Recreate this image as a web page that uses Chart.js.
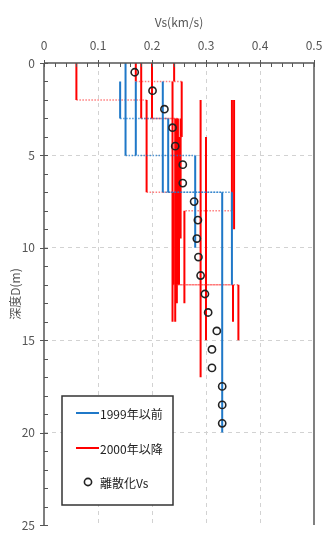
<!DOCTYPE html>
<html><head><meta charset="utf-8">
<script src="https://cdn.jsdelivr.net/npm/chart.js@4.4.0/dist/chart.umd.min.js"></script>
<style>html,body{margin:0;padding:0;background:#fff;}#wrap{width:327px;height:534px;position:relative}</style>
</head><body><div id="wrap"><canvas id="c" width="327" height="534"></canvas></div>
<script>
// ---- axis ticks ----
const xTickValues = [0, 0.1, 0.2, 0.3, 0.4, 0.5];
const xTickLabels = ['0', '0.1', '0.2', '0.3', '0.4', '0.5'];
const yTickValues = [0, 5, 10, 15, 20, 25];
const yTickLabels = ['0', '5', '10', '15', '20', '25'];

// ---- legend labels ----
const legendLabels = ['1999年以前', '2000年以降', '離散化Vs'];

// ---- 1999年以前 (blue) step profiles: layer boundaries (m) and Vs (km/s) ----
const blueA_depth = [0, 5, 10];      const blueA_vs = [0.151, 0.28];
const blueB_depth = [1, 5];          const blueB_vs = [0.170];
const blueC_depth = [1, 3, 7, 12];   const blueC_vs = [0.141, 0.23, 0.348];
const blueD_depth = [1, 7, 20];      const blueD_vs = [0.22, 0.33];

// ---- 2000年以降 (red) step profiles ----
const redA_depth = [0, 2, 7, 12, 15]; const redA_vs = [0.06, 0.19, 0.24, 0.36];
const redB_depth = [0, 1, 14];        const redB_vs = [0.17, 0.238];
const redC_depth = [0, 3, 14];        const redC_vs = [0.18, 0.243];
const redD_depth = [0, 3, 12, 14];    const redD_vs = [0.20, 0.248, 0.35];
const redE_depth = [0, 1, 4, 12];     const redE_vs = [0.241, 0.255, 0.25];
const redF_depth = [2, 9];            const redF_vs = [0.352];
const redG_depth = [2, 17];           const redG_vs = [0.29];
const redH_depth = [4, 15];           const redH_vs = [0.30];
const redI_depth = [2, 8, 13];        const redI_vs = [0.348, 0.26];
const redJ_depth = [3, 13];           const redJ_vs = [0.246];
const redK_depth = [3, 9.5];          const redK_vs = [0.253];

// ---- 離散化Vs (circles) ----
const discDepth = [0.5, 1.5, 2.5, 3.5, 4.5, 5.5, 6.5, 7.5, 8.5, 9.5, 10.5, 11.5, 12.5, 13.5, 14.5, 15.5, 16.5, 17.5, 18.5, 19.5];
const discVs    = [0.168, 0.201, 0.223, 0.238, 0.243, 0.257, 0.257, 0.278, 0.285, 0.283, 0.286, 0.29, 0.298, 0.304, 0.32, 0.311, 0.311, 0.33, 0.33, 0.33];

const FONT = "'Noto Sans CJK JP', 'Noto Sans', sans-serif";
const BLUE = '#1f78c8', BLUE_L = 'rgba(31,120,200,0.75)';
const RED = '#ff0000', RED_L = 'rgba(255,40,40,0.6)';

function stepProfile(depths, vs) {
  const pts = [];
  for (let i = 0; i < vs.length; i++) {
    pts.push({x: vs[i], y: depths[i]});
    pts.push({x: vs[i], y: depths[i + 1]});
  }
  return pts;
}
const isFlat = c => c.p0.parsed.y === c.p1.parsed.y;
function lineDs(label, color, light, pts, order) {
  return {
    label, data: pts, showLine: true, pointRadius: 0, pointHoverRadius: 0,
    borderColor: color, borderWidth: 2, order, fill: false,
    segment: {
      borderDash: c => isFlat(c) ? [1.5, 1.5] : undefined,
      borderColor: c => isFlat(c) ? light : undefined,
      borderWidth: c => isFlat(c) ? 1.5 : undefined
    }
  };
}

const datasets = [];
datasets.push({
  label: legendLabels[2],
  data: discVs.map((v, i) => ({x: v, y: discDepth[i]})),
  showLine: false, pointRadius: 3.6, pointBorderWidth: 1.6,
  pointBorderColor: '#222', pointBackgroundColor: 'rgba(0,0,0,0)', order: 0
});
[[blueA_depth, blueA_vs], [blueB_depth, blueB_vs], [blueC_depth, blueC_vs], [blueD_depth, blueD_vs]]
  .forEach(p => datasets.push(lineDs(legendLabels[0], BLUE, BLUE_L, stepProfile(p[0], p[1]), 1)));
[[redA_depth, redA_vs], [redB_depth, redB_vs], [redC_depth, redC_vs], [redD_depth, redD_vs], [redE_depth, redE_vs],
 [redF_depth, redF_vs], [redG_depth, redG_vs], [redH_depth, redH_vs], [redI_depth, redI_vs],
 [redJ_depth, redJ_vs], [redK_depth, redK_vs]]
  .forEach(p => datasets.push(lineDs(legendLabels[1], RED, RED_L, stepProfile(p[0], p[1]), 2)));

const frame = {
  id: 'frame',
  afterDatasetsDraw(chart) {
    const {ctx, chartArea: ca, scales} = chart;
    const xs = scales.x, ys = scales.y;
    ctx.save();
    ctx.strokeStyle = '#808080'; ctx.lineWidth = 2;
    ctx.beginPath(); ctx.moveTo(ca.right, ca.top); ctx.lineTo(ca.right, ca.bottom); ctx.stroke();
    ctx.strokeStyle = '#555'; ctx.lineWidth = 1.5;
    ctx.beginPath(); ctx.moveTo(ca.left, ca.top); ctx.lineTo(ca.right, ca.top);
    ctx.moveTo(ca.left, ca.top); ctx.lineTo(ca.left, ca.bottom); ctx.stroke();
    ctx.lineWidth = 1;
    ctx.beginPath();
    for (let i = 0; i <= 25; i++) {
      const v = i * 0.02, px = Math.round(xs.getPixelForValue(v)) + 0.5;
      const major = i % 5 === 0;
      ctx.moveTo(px, ca.top - (major ? 3 : 0)); ctx.lineTo(px, ca.top + 4);
    }
    for (let d = 0; d <= 25; d++) {
      const py = Math.round(ys.getPixelForValue(d)) + 0.5;
      const major = d % 5 === 0;
      ctx.moveTo(ca.left - (major ? 4 : 0), py); ctx.lineTo(ca.left + 4, py);
    }
    ctx.stroke();
    ctx.restore();
  },
  afterDraw(chart) {
    const {ctx, chartArea: ca} = chart;
    const x0 = ca.left + 18, y0 = ca.bottom - 129, w = 111, h = 109;
    ctx.save();
    ctx.fillStyle = '#fff'; ctx.fillRect(x0, y0, w, h);
    ctx.strokeStyle = '#333'; ctx.lineWidth = 1.5; ctx.strokeRect(x0, y0, w, h);
    ctx.font = '12px ' + FONT; ctx.fillStyle = '#222'; ctx.textBaseline = 'middle'; ctx.textAlign = 'left';
    const rows = [y0 + 17, y0 + 52, y0 + 86];
    ctx.lineWidth = 2;
    ctx.strokeStyle = BLUE; ctx.beginPath(); ctx.moveTo(x0 + 14, rows[0]); ctx.lineTo(x0 + 37, rows[0]); ctx.stroke();
    ctx.strokeStyle = RED; ctx.beginPath(); ctx.moveTo(x0 + 14, rows[1]); ctx.lineTo(x0 + 37, rows[1]); ctx.stroke();
    ctx.strokeStyle = '#222'; ctx.lineWidth = 1.6; ctx.beginPath(); ctx.arc(x0 + 26, rows[2], 3.6, 0, Math.PI * 2); ctx.stroke();
    legendLabels.forEach((t, i) => ctx.fillText(t, x0 + 38, rows[i] + 1));
    ctx.restore();
  }
};

new Chart(document.getElementById('c'), {
  type: 'scatter',
  data: {datasets},
  options: {
    responsive: false, animation: false, devicePixelRatio: 1,
    layout: {padding: {left: 0, top: 0, right: 13, bottom: 9}},
    plugins: {legend: {display: false}, tooltip: {enabled: false}},
    scales: {
      x: {
        type: 'linear', position: 'top', min: 0, max: 0.5,
        afterBuildTicks: s => { s.ticks = xTickValues.map(v => ({value: v})); },
        afterFit: s => { s.height = 63; s.paddingLeft = 0; s.paddingRight = 0; },
        ticks: {padding: 10, color: '#555', font: {family: FONT, size: 12},
          callback: (v) => { const i = xTickValues.findIndex(t => Math.abs(t - v) < 1e-9); return i >= 0 ? xTickLabels[i] : ''; }},
        grid: {drawTicks: false, lineWidth: 1, color: c => (c.tick && c.tick.value > 0 && c.tick.value < 0.5) ? '#d2d2d2' : 'rgba(0,0,0,0)'},
        border: {display: false, dash: [4, 4]},
        title: {display: true, text: 'Vs(km/s)', color: '#555', font: {family: FONT, size: 12}, padding: {top: 15, bottom: 0}}
      },
      y: {
        type: 'linear', reverse: true, min: 0, max: 25,
        afterBuildTicks: s => { s.ticks = yTickValues.map(v => ({value: v})); },
        afterFit: s => { s.width = 44; s.paddingTop = 0; s.paddingBottom = 0; },
        ticks: {padding: 9, color: '#555', font: {family: FONT, size: 12},
          callback: (v) => { const i = yTickValues.indexOf(v); return i >= 0 ? yTickLabels[i] : ''; }},
        grid: {drawTicks: false, lineWidth: 1, color: c => (c.tick && c.tick.value > 0 && c.tick.value < 25) ? '#d2d2d2' : 'rgba(0,0,0,0)'},
        border: {display: false, dash: [4, 4]},
        title: {display: true, text: '深度D(m)', color: '#555', font: {family: FONT, size: 12}, padding: {top: 8, bottom: 0}}
      }
    }
  },
  plugins: [frame]
});
</script></body></html>
